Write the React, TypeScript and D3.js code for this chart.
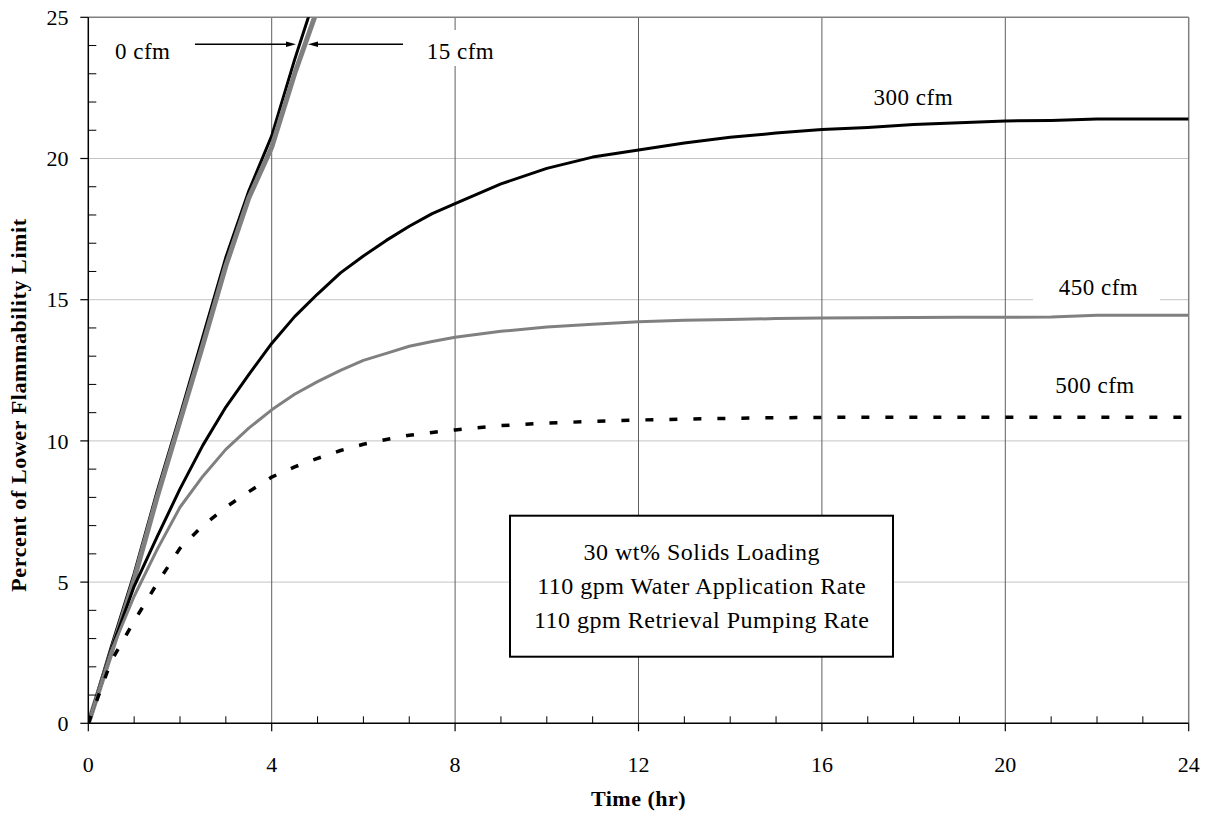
import React from "react";
import * as d3 from "d3";

// ---- data ----
const timeFast = [0, 0.5, 1, 1.5, 2, 2.5, 3, 3.5, 4, 4.5, 5];
const cfm0 = [0, 2.7, 5.3, 8.2, 10.9, 13.7, 16.5, 18.85, 20.8, 23.5, 26.0];
const cfm15 = [0, 2.5, 5.1, 8.0, 10.7, 13.4, 16.2, 18.6, 20.4, 23.0, 25.3];

const timeSlow = [0, 0.5, 1, 1.5, 2, 2.5, 3, 3.5, 4, 4.5, 5, 5.5, 6, 6.5, 7, 7.5, 8, 9, 10, 11, 12, 13, 14, 15, 16, 17, 18, 19, 20, 21, 22, 23, 24];
const cfm300 = [0, 2.6, 4.85, 6.6, 8.3, 9.85, 11.2, 12.35, 13.45, 14.4, 15.2, 15.95, 16.55, 17.1, 17.6, 18.05, 18.4, 19.1, 19.65, 20.05, 20.3, 20.55, 20.75, 20.9, 21.03, 21.1, 21.2, 21.27, 21.33, 21.35, 21.4, 21.4, 21.4];
const cfm450 = [0, 2.55, 4.5, 6.15, 7.65, 8.75, 9.7, 10.45, 11.1, 11.65, 12.1, 12.5, 12.85, 13.1, 13.35, 13.52, 13.67, 13.88, 14.03, 14.13, 14.22, 14.27, 14.3, 14.33, 14.35, 14.36, 14.37, 14.38, 14.38, 14.39, 14.45, 14.45, 14.45];
const cfm500 = [0, 2.2, 3.62, 4.95, 6.2, 7.0, 7.65, 8.2, 8.72, 9.08, 9.38, 9.66, 9.88, 10.05, 10.2, 10.3, 10.39, 10.54, 10.63, 10.69, 10.74, 10.77, 10.8, 10.82, 10.83, 10.84, 10.84, 10.84, 10.84, 10.84, 10.84, 10.84, 10.84];

const xMajorTicks = [0, 4, 8, 12, 16, 20, 24];
const yMajorTicks = [0, 5, 10, 15, 20, 25];
const boxLines = ["30 wt% Solids Loading", "110 gpm Water Application Rate", "110 gpm Retrieval Pumping Rate"];

const FONT = "'Liberation Serif', 'Times New Roman', serif";

export default function App() {
  const x = d3.scaleLinear().domain([0, 24]).range([88.3, 1188.7]);
  const y = d3.scaleLinear().domain([0, 25]).range([723.3, 17.3]);
  const x0 = x(0), x1 = x(24), y0 = y(0), y1 = y(25);

  const mk = (ts: number[], vs: number[]) =>
    d3.line<number>().x((_, i) => x(ts[i])).y((v) => y(v))(vs) || "";

  const xMinor = d3.range(0, 25).filter((t) => t % 4 !== 0);
  const yMinor = d3.range(0, 26).filter((v) => v % 5 !== 0);

  return (
    <svg width={1210} height={822} style={{ position: "absolute", left: 0, top: 0, background: "#fff" }}>
      <defs>
        <clipPath id="plot">
          <rect x={x0} y={y1} width={x1 - x0} height={y0 - y1} />
        </clipPath>
      </defs>
      <rect x={0} y={0} width={1210} height={822} fill="#fff" />
      {/* horizontal gridlines */}
      {[5, 10, 15, 20].map((v) => (
        <line key={"h" + v} x1={x0} x2={x1} y1={y(v)} y2={y(v)} stroke="#c4c4c4" strokeWidth={1} />
      ))}
      {/* vertical gridlines */}
      {[4, 8, 12, 16, 20].map((t) => (
        <line key={"v" + t} x1={x(t)} x2={x(t)} y1={y1} y2={y0} stroke="#5e5e5e" strokeWidth={1} />
      ))}
      {/* top & right border */}
      <line x1={x0} x2={x1} y1={y1} y2={y1} stroke="#808080" strokeWidth={1.5} />
      <line x1={x1} x2={x1} y1={y1} y2={y0} stroke="#808080" strokeWidth={1.5} />

      {/* series */}
      <g clipPath="url(#plot)" fill="none" strokeLinejoin="round">
        <path d={mk(timeFast, cfm0)} stroke="#000" strokeWidth={3} />
        <path d={mk(timeFast, cfm15)} stroke="#808080" strokeWidth={5} />
        <path d={mk(timeSlow, cfm300)} stroke="#000" strokeWidth={3} />
        <path d={mk(timeSlow, cfm450)} stroke="#808080" strokeWidth={3} />
        <path d={mk(timeSlow, cfm500)} stroke="#000" strokeWidth={3.5} strokeDasharray="8 16" />
      </g>

      {/* axes */}
      <line x1={x0} x2={x0} y1={y1} y2={y0} stroke="#000" strokeWidth={1.5} />
      <line x1={x0} x2={x1} y1={y0} y2={y0} stroke="#000" strokeWidth={1.5} />
      {yMajorTicks.map((v) => (
        <line key={"ym" + v} x1={x0 - 8} x2={x0} y1={y(v)} y2={y(v)} stroke="#000" strokeWidth={1.2} />
      ))}
      {yMinor.map((v) => (
        <line key={"yn" + v} x1={x0} x2={x0 + 8} y1={y(v)} y2={y(v)} stroke="#000" strokeWidth={1} />
      ))}
      {xMajorTicks.map((t) => (
        <line key={"xm" + t} x1={x(t)} x2={x(t)} y1={y0} y2={y0 + 8} stroke="#000" strokeWidth={1.2} />
      ))}
      {xMinor.map((t) => (
        <line key={"xn" + t} x1={x(t)} x2={x(t)} y1={y0 - 7} y2={y0} stroke="#000" strokeWidth={1} />
      ))}

      {/* tick labels */}
      <g fontFamily={FONT} fontSize={22} fill="#000">
        {yMajorTicks.map((v) => (
          <text key={"yl" + v} x={68.5} y={y(v)} dy="0.35em" textAnchor="end">{v}</text>
        ))}
        {xMajorTicks.map((t) => (
          <text key={"xl" + t} x={x(t)} y={771.5} textAnchor="middle">{t}</text>
        ))}
      </g>

      {/* axis titles */}
      <text x={638.5} y={806} textAnchor="middle" fontFamily={FONT} fontSize={22} fontWeight="bold" letterSpacing={0.5}>
        Time (hr)
      </text>
      <text
        transform={`translate(26,${405}) rotate(-90)`}
        textAnchor="middle"
        fontFamily={FONT}
        fontSize={22}
        fontWeight="bold"
        letterSpacing={0.6}
      >
        Percent of Lower Flammability Limit
      </text>

      {/* series labels */}
      <g fontFamily={FONT} fontSize={23} letterSpacing={0.5}>
        <text x={115} y={59.3}>0 cfm</text>
        <line x1={195} x2={288} y1={44.3} y2={44.3} stroke="#000" strokeWidth={1.5} />
        <polygon points={`296,44.3 286,41.5 286,47.1`} fill="#000" />
        <line x1={316} x2={403} y1={44.3} y2={44.3} stroke="#000" strokeWidth={1.5} />
        <polygon points={`308,44.3 318,41.5 318,47.1`} fill="#000" />
        <rect x={420} y={30} width={80} height={36} fill="#fff" />
        <text x={426.7} y={59.3}>15 cfm</text>
        <text x={913.3} y={105} textAnchor="middle">300 cfm</text>
        <rect x={1033} y={284} width={127} height={24} fill="#fff" />
        <text x={1098.5} y={295} textAnchor="middle">450 cfm</text>
        <text x={1095} y={393.3} textAnchor="middle">500 cfm</text>
      </g>

      {/* annotation box */}
      <rect x={510} y={515.7} width={383} height={141} fill="#fff" stroke="#000" strokeWidth={2} />
      <g fontFamily={FONT} fontSize={24} letterSpacing={0.5} textAnchor="middle">
        {boxLines.map((s, i) => (
          <text key={s} x={701.7} y={560 + i * 34.2}>{s}</text>
        ))}
      </g>
    </svg>
  );
}
